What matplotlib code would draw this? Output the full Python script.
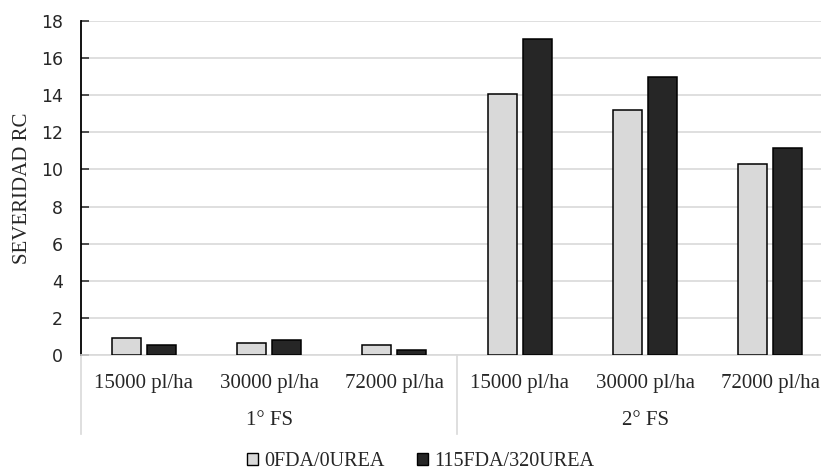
import matplotlib
matplotlib.use("Agg")
import matplotlib.pyplot as plt
import matplotlib.transforms as mtransforms
from matplotlib.lines import Line2D
from matplotlib.patches import Patch
import numpy as np

# Plant densities within each sowing date
densities = ["15000 pl/ha", "30000 pl/ha", "72000 pl/ha",
             "15000 pl/ha", "30000 pl/ha", "72000 pl/ha"]
sowing_dates = ["1° FS", "2° FS"]

# Severity per treatment
series_names = ["0FDA/0UREA", "115FDA/320UREA"]
control = [0.90, 0.65, 0.54, 14.05, 13.2, 10.3]
fertilized = [0.54, 0.82, 0.27, 17.05, 14.98, 11.15]

colors = ["#d9d9d9", "#262626"]
serif = ["Liberation Serif", "DejaVu Serif"]
text_color = "#262626"

fig = plt.figure(figsize=(8.21, 4.74), dpi=100)
ax = fig.add_axes([81 / 821, 1 - 355 / 474, 752 / 821, 334 / 474])

x = np.arange(len(densities))
width = 0.23
offset = 0.14
ax.bar(x - offset, control, width, color=colors[0], edgecolor="black",
       linewidth=1.1, zorder=3, label=series_names[0])
ax.bar(x + offset, fertilized, width, color=colors[1], edgecolor="black",
       linewidth=1.1, zorder=3, label=series_names[1])

ax.set_xlim(-0.5, len(densities) - 0.5)
ax.set_ylim(0, 18)
ax.set_yticks(np.arange(0, 19, 2))
ax.yaxis.grid(True, color="#d9d9d9", linewidth=1.2, zorder=0)
ax.set_axisbelow(True)

for side in ["top", "right"]:
    ax.spines[side].set_visible(False)
ax.spines["left"].set_color("black")
ax.spines["left"].set_linewidth(1.3)
ax.spines["bottom"].set_color("#d9d9d9")
ax.spines["bottom"].set_linewidth(1.2)

ax.tick_params(axis="y", direction="in", length=6, width=1.2,
               color="#333333", labelsize=12.5, labelcolor=text_color, pad=13)
ax.set_xticks(x)
ax.set_xticklabels(densities, fontfamily=serif, fontsize=15, color=text_color)
ax.tick_params(axis="x", length=0, pad=14)

ax.set_ylabel("SEVERIDAD RC", fontfamily=serif, fontsize=15, color=text_color)
ax.yaxis.set_label_coords(-49 / 752, 0.5)

# Group labels and separators beneath the category axis
trans = mtransforms.blended_transform_factory(ax.transData, ax.transAxes)
for xs in [-0.5, 2.5, 5.5]:
    ax.add_line(Line2D([xs, xs], [0, -0.237], transform=trans,
                       color="#d9d9d9", linewidth=1.2, clip_on=False))
for i, name in enumerate(sowing_dates):
    ax.text(1 + 3 * i, -0.197, name, transform=trans, ha="center",
            va="center", fontfamily=serif, fontsize=15, color=text_color)

handles = [Patch(facecolor=c, edgecolor="black", linewidth=1.0) for c in colors]
leg = fig.legend(handles, series_names, loc="center",
                 bbox_to_anchor=(0.512, 1 - 462 / 474),
                 ncol=2, frameon=False, prop={"family": serif, "size": 14.5},
                 handlelength=0.55, handleheight=0.55, handletextpad=0.3,
                 columnspacing=1.6, borderpad=0)
for t in leg.get_texts():
    t.set_color(text_color)

fig.savefig("out.png", dpi=100)
